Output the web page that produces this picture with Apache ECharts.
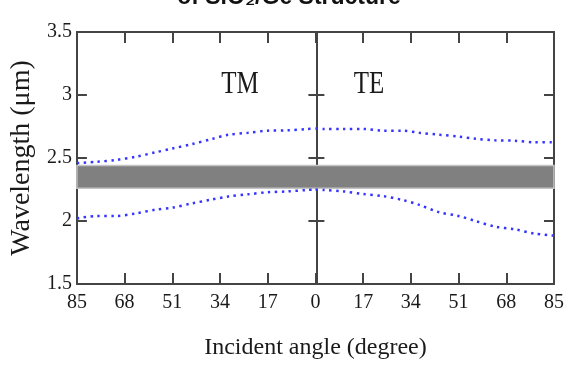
<!DOCTYPE html>
<html>
<head>
<meta charset="utf-8">
<script src="https://cdn.jsdelivr.net/npm/echarts@6/dist/echarts.min.js"></script>
<style>
html,body{margin:0;padding:0;background:#fff;}
#chart{width:569px;height:365px;}
</style>
</head>
<body>
<div id="chart"></div>
<script>
// ---- data ----
const angles = [85, 78, 71, 64, 57, 51, 44, 37, 31, 24, 17, 10, 3, 0];
const tmUpper = [2.46, 2.47, 2.485, 2.51, 2.545, 2.575, 2.61, 2.65, 2.685, 2.70, 2.717, 2.72, 2.73, 2.735];
const tmLower = [2.02, 2.04, 2.04, 2.06, 2.09, 2.106, 2.14, 2.17, 2.195, 2.212, 2.228, 2.235, 2.246, 2.25];
const teUpper = [2.625, 2.625, 2.637, 2.64, 2.653, 2.67, 2.685, 2.70, 2.717, 2.717, 2.73, 2.73, 2.73, 2.735];
const teLower = [1.884, 1.90, 1.935, 1.955, 2.0, 2.04, 2.07, 2.128, 2.167, 2.198, 2.214, 2.235, 2.246, 2.25];
const bandRange = [2.26, 2.44];
const xTicks = [85, 68, 51, 34, 17, 0, 17, 34, 51, 68, 85];
const yTicks = [1.5, 2, 2.5, 3, 3.5];
const titleText = 'of SiO\u2082/Ge Structure';
const panelLabels = ['TM', 'TE'];

// TM on the left (angle shown decreasing to 0), TE on the right
const tmUpperData = angles.map((a, i) => [-a, tmUpper[i]]);
const tmLowerData = angles.map((a, i) => [-a, tmLower[i]]);
const teUpperData = angles.map((a, i) => [a, teUpper[i]]).reverse();
const teLowerData = angles.map((a, i) => [a, teLower[i]]).reverse();

const axisColor = '#444';
const serif = '"Liberation Serif", "Times New Roman", serif';
const dotStyle = { color: '#3535ff', width: 2.5, type: [2.4, 4.5] };

const chart = echarts.init(document.getElementById('chart'), null, { renderer: 'canvas' });

const grid = { left: 75, right: 15, top: 32, bottom: 81 };
const gridW = 569 - grid.left - grid.right;

function lineSeries(data) {
  return {
    type: 'line', data: data, xAxisIndex: 0, yAxisIndex: 0,
    showSymbol: false, smooth: 0.3, lineStyle: dotStyle, z: 5, silent: true
  };
}

chart.setOption({
  animation: false,
  backgroundColor: '#fff',
  grid: grid,
  graphic: [
    { type: 'text', x: 289, y: 9, style: { text: titleText, align: 'center', verticalAlign: 'bottom',
      font: 'bold 23px "Liberation Sans", Arial, sans-serif', fill: '#111' } },
    { type: 'text', x: 240, y: 101, scaleY: 1.3, style: { text: panelLabels[0], align: 'center', verticalAlign: 'bottom',
      font: '25px ' + serif, fill: '#1a1a1a' } },
    { type: 'text', x: 369, y: 101, scaleY: 1.3, style: { text: panelLabels[1], align: 'center', verticalAlign: 'bottom',
      font: '25px ' + serif, fill: '#1a1a1a' } }
  ],
  xAxis: [
    {
      type: 'value', position: 'bottom', min: -85, max: 85, interval: 17,
      name: 'Incident angle (degree)', nameLocation: 'middle', nameGap: 52,
      nameTextStyle: { fontFamily: serif, fontSize: 24, color: '#1a1a1a' },
      axisLine: { show: true, onZero: false, lineStyle: { color: axisColor, width: 2 } },
      axisTick: { show: true, inside: true, length: 11, lineStyle: { color: axisColor, width: 2 } },
      axisLabel: { fontFamily: serif, fontSize: 20, color: '#1a1a1a', margin: 9,
        formatter: v => String(Math.abs(v)) },
      splitLine: { show: false }
    },
    {
      type: 'value', position: 'top', min: -85, max: 85, interval: 17,
      axisLine: { show: true, onZero: false, lineStyle: { color: axisColor, width: 2 } },
      axisTick: { show: true, inside: true, length: 11, lineStyle: { color: axisColor, width: 2 } },
      axisLabel: { show: false }, splitLine: { show: false }
    }
  ],
  yAxis: [
    {
      type: 'value', position: 'left', min: 1.5, max: 3.5, interval: 0.5,
      name: 'Wavelength (\u03bcm)', nameLocation: 'middle', nameGap: 40,
      nameTextStyle: { fontFamily: serif, fontSize: 28, color: '#1a1a1a' },
      axisLine: { show: true, onZero: false, lineStyle: { color: axisColor, width: 2 } },
      axisTick: { show: true, inside: true, length: 10, lineStyle: { color: axisColor, width: 2 } },
      axisLabel: { fontFamily: serif, fontSize: 20, color: '#1a1a1a', margin: 5,
        padding: [0, 0, 6, 0], formatter: v => String(v) },
      splitLine: { show: false }
    },
    {
      type: 'value', position: 'right', min: 1.5, max: 3.5, interval: 0.5,
      axisLine: { show: true, onZero: false, lineStyle: { color: axisColor, width: 2 } },
      axisTick: { show: true, inside: true, length: 10, lineStyle: { color: axisColor, width: 2 } },
      axisLabel: { show: false }, splitLine: { show: false }
    },
    {
      type: 'value', position: 'left', offset: -gridW / 2, min: 1.5, max: 3.5, interval: 0.5,
      axisLine: { show: true, onZero: false, lineStyle: { color: axisColor, width: 2 } },
      axisTick: { show: true, inside: true, length: 8, lineStyle: { color: axisColor, width: 2 } },
      axisLabel: { show: false }, splitLine: { show: false }
    },
    {
      type: 'value', position: 'left', offset: -gridW / 2, min: 1.5, max: 3.5, interval: 0.5,
      axisLine: { show: false },
      axisTick: { show: true, inside: false, length: 8, lineStyle: { color: axisColor, width: 2 } },
      axisLabel: { show: false }, splitLine: { show: false }
    }
  ],
  series: [
    {
      type: 'line', data: [], xAxisIndex: 0, yAxisIndex: 0, z: 1, silent: true,
      markArea: {
        silent: true,
        itemStyle: { color: '#808080', borderColor: '#c4c4c4', borderWidth: 1.5 },
        data: [[{ xAxis: -85, yAxis: bandRange[0] }, { xAxis: 85, yAxis: bandRange[1] }]]
      }
    },
    lineSeries(tmUpperData),
    lineSeries(tmLowerData),
    lineSeries(teUpperData),
    lineSeries(teLowerData)
  ]
});
</script>
</body>
</html>
